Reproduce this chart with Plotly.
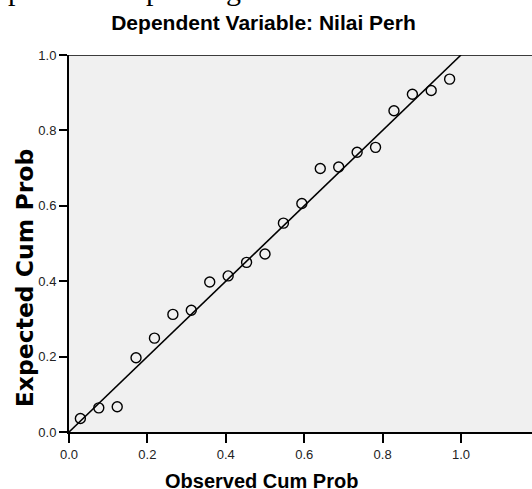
import plotly.graph_objects as go

observed_cum_prob = [0.029, 0.076, 0.123, 0.171, 0.218, 0.265, 0.312, 0.359, 0.406, 0.453,
                     0.500, 0.547, 0.594, 0.641, 0.688, 0.735, 0.782, 0.829, 0.876, 0.924, 0.971]
expected_cum_prob = [0.036, 0.064, 0.067, 0.197, 0.249, 0.312, 0.323, 0.398, 0.414, 0.450,
                     0.472, 0.554, 0.606, 0.699, 0.703, 0.742, 0.755, 0.852, 0.896, 0.906, 0.936]
ref_line_x = [0.0, 1.0]
ref_line_y = [0.0, 1.0]
tick_vals = [0.0, 0.2, 0.4, 0.6, 0.8, 1.0]
tick_text = ["0.0", "0.2", "0.4", "0.6", "0.8", "1.0"]

fig = go.Figure()
fig.add_trace(go.Scatter(x=ref_line_x, y=ref_line_y, mode="lines",
                         line=dict(color="black", width=1.6), hoverinfo="skip",
                         showlegend=False))
fig.add_trace(go.Scatter(x=observed_cum_prob, y=expected_cum_prob, mode="markers",
                         marker=dict(symbol="circle-open", size=10, color="black",
                                     line=dict(width=1.4, color="black")),
                         showlegend=False))

W, H = 532, 489
L, T, B = 69, 54.5, 57
plot_w = W - L
plot_h = H - T - B

def px_x(p):
    return (p - L) / plot_w

def px_y(p):
    return (H - B - p) / plot_h

fig.update_layout(
    width=W, height=H,
    margin=dict(l=L, r=0, t=T, b=B, pad=0),
    paper_bgcolor="white", plot_bgcolor="#f0f0f0",
    font=dict(family="Liberation Sans, Arial, sans-serif", color="black"),
    title=dict(text="<b>Dependent Variable: Nilai Perh</b>", x=263.5 / W, xref="container",
               xanchor="center", y=1 - 23 / H, yanchor="middle",
               font=dict(size=21, color="black")),
)
fig.update_xaxes(range=[0, plot_w / 392.0], tickvals=tick_vals, ticktext=tick_text,
                 ticks="outside", ticklen=9, tickwidth=1.5, tickcolor="black",
                 showline=True, linecolor="black", linewidth=2, showgrid=False,
                 zeroline=False, tickfont=dict(size=13, color="#222"))
fig.update_yaxes(range=[0, 1], tickvals=tick_vals, ticktext=tick_text,
                 ticks="outside", ticklen=8, tickwidth=1.5, tickcolor="black",
                 showline=True, linecolor="black", linewidth=2, showgrid=False,
                 zeroline=False, tickfont=dict(size=13, color="#222"))
fig.add_shape(type="line", xref="paper", yref="y", x0=0, x1=1, y0=1, y1=1,
              line=dict(color="black", width=1.3))

# axis titles
fig.add_annotation(text="<b>Observed Cum Prob</b>", xref="paper", yref="paper",
                   x=px_x(261), y=px_y(481), xanchor="center", yanchor="middle",
                   showarrow=False, font=dict(size=20, color="black"))
fig.add_annotation(text="<b>Expected Cum Prob</b>", xref="paper", yref="paper",
                   x=px_x(25), y=px_y(278), xanchor="center", yanchor="middle",
                   textangle=-90, showarrow=False,
                   font=dict(family="DejaVu Sans", size=23.5, color="black"))

# cropped descenders of a larger heading above the chart
for ch, xp in [("p", 15), ("p", 153), ("g", 233)]:
    fig.add_annotation(text=ch, xref="paper", yref="paper",
                       x=px_x(xp), y=px_y(7),
                       xanchor="center", yanchor="bottom", showarrow=False,
                       font=dict(family="Liberation Serif", size=30, color="black"))

fig.write_html("out.html", config={"displayModeBar": False},
               post_script="document.body.style.margin='0px';")
